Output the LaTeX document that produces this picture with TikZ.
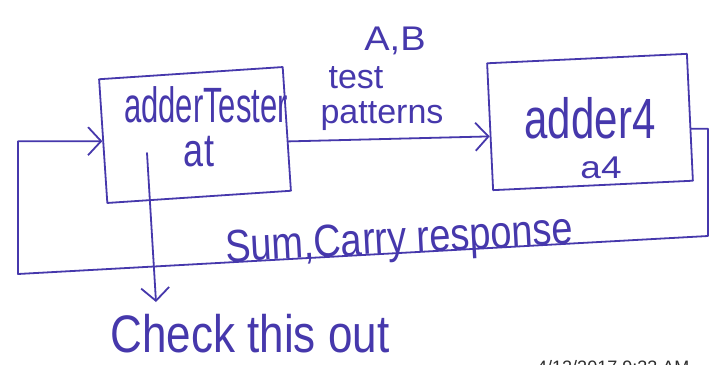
\documentclass[tikz,border=0pt]{standalone}
\usepackage{fontspec}
\usepackage{graphicx}
\setmainfont{Liberation Sans}
\usetikzlibrary{arrows.meta,calc}
\definecolor{ink}{RGB}{70,56,172}
\definecolor{stampgray}{RGB}{45,45,45}
\tikzset{
  pen/.style={draw=ink, line width=1.8pt, line cap=round, line join=round},
  blockbox/.style={pen, rectangle, inner sep=0pt},
  hand/.style={text=ink, inner sep=0pt, anchor=base},
  barb/.style={-{Straight Barb[length=13pt,width=28pt,line width=1.8pt]}},
}
\newcommand{\fs}[1]{\fontsize{#1}{#1}\selectfont}
\newcommand{\tall}[2]{\scalebox{1}[#1]{#2}}
\begin{document}
\begin{tikzpicture}[x=1pt,y=-1pt]
\path[use as bounding box] (0,0) rectangle (711,364);
\clip (0,0) rectangle (711,364);
\fill[white] (0,0) rectangle (711,364);

% blocks
\node[blockbox, minimum width=184pt, minimum height=124pt, rotate=3.8] (tester) at (195,135) {};
\node[blockbox, minimum width=200pt, minimum height=127pt, rotate=2.7] (adder) at (590,122) {};

% texts
\node[hand, font=\fs{31}] (tname) at (206,122) {\tall{1.6}{adderTester}};
\node[hand, font=\fs{36}] (tinst) at (199,166) {\tall{1.3}{at}};
\node[hand, font=\fs{42}] (aname) at (590,138) {\tall{1.35}{adder4}};
\node[hand, font=\fs{37}] (ainst) at (601,178) {\tall{0.85}{a4}};
\node[hand, font=\fs{38}] (ab) at (395,50) {\tall{0.9}{A,B}};
\node[hand, font=\fs{34}] (ltest) at (356,88) {test};
\node[hand, font=\fs{34}] (lpat) at (382,123) {patterns};
\node[hand, font=\fs{38}, rotate=3] (resp) at (400,253) {\tall{1.2}{Sum,Carry response}};
\node[hand, font=\fs{44}] (check) at (250,352) {\tall{1.2}{Check this out}};
\node[anchor=north west, inner sep=0pt, text=stampgray, font=\fs{18}] (stamp) at (537,360) {4/12/2017 9:33 AM};

% connectors
\coordinate (tout) at ($(tester.east)!0.2!(tester.south east)$);
\coordinate (ain) at ($(adder.west)!0.15!(adder.south west)$);
\draw[pen,barb] (tout) -- (ain);

\coordinate (aout) at ($(adder.east)!0.18!(adder.south east)$);
\coordinate (fbBR) at (708,236);
\coordinate (fbBL) at (18,274);
\draw[pen,barb] (aout) -- (aout -| fbBR) -- (fbBR) -- (fbBL) -- (fbBL |- tester.west) -- (tester.west);

\coordinate (probe) at (147,153);
\coordinate (probeTip) at (156,302);
\draw[pen,barb] (probe) -- (probeTip);
\end{tikzpicture}
\end{document}
